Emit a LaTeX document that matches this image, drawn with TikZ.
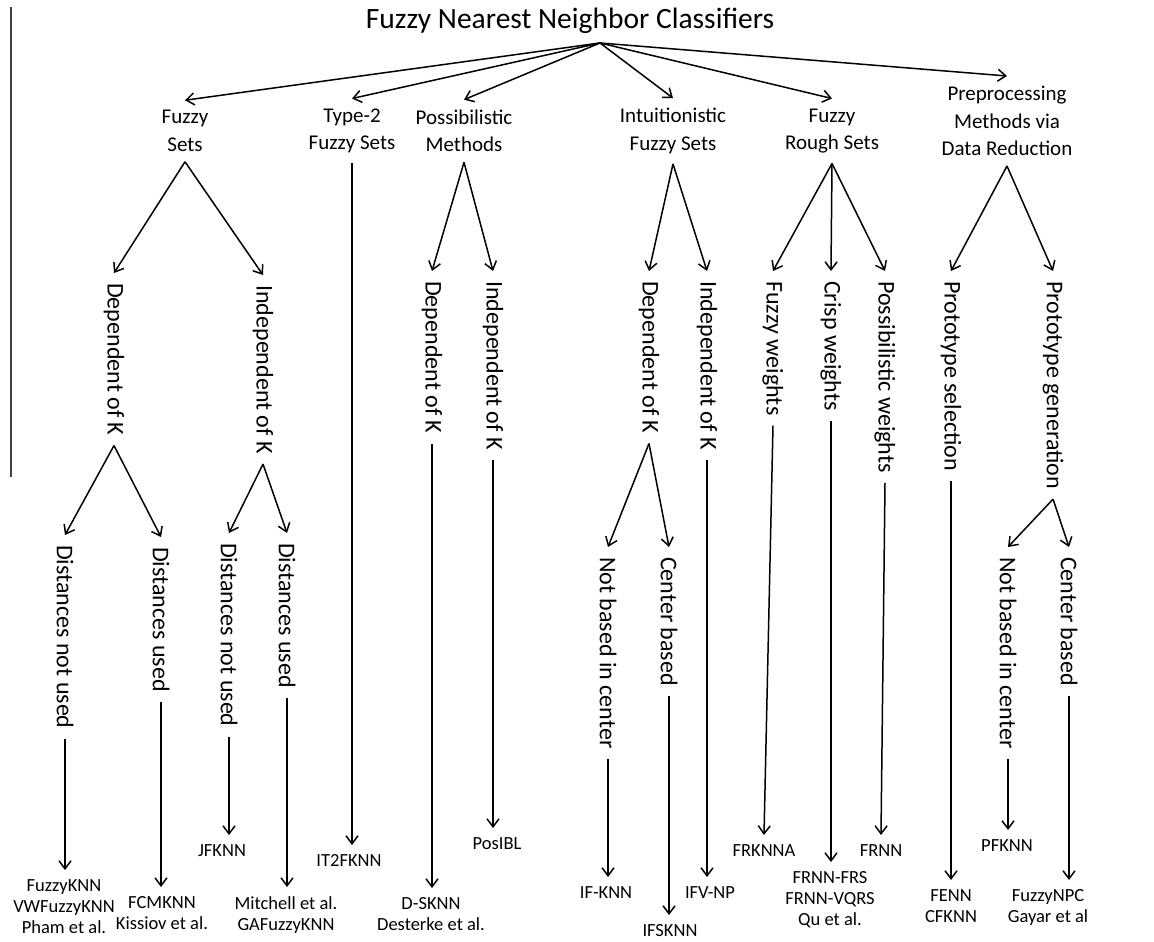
\documentclass[tikz,border=0pt]{standalone}
\usepackage{fontspec}
\setmainfont{Carlito}
\usetikzlibrary{arrows.meta}
\tikzset{
    arr/.style={-{Straight Barb[length=8pt,width=12pt]}, line width=1.5pt}, % connectors
    cat/.style={align=center, inner sep=10pt, font=\fontsize{21}{27.5}\selectfont}, % first level
    sub/.style={rotate=-90, anchor=west, inner sep=10pt, font=\fontsize{24}{28}\selectfont}, % vertical labels
    leaf/.style={align=center, anchor=north, inner sep=9pt, font=\fontsize{18.5}{21}\selectfont} % methods
}

\begin{document}
\begin{tikzpicture}[x=1pt, y=-1pt]
    \useasboundingbox (0,0) rectangle (1154,942);
    \draw[line width=1.2pt, black!75] (11,7) -- (11,477);

    \node[font=\fontsize{29.5}{34}\selectfont, inner sep=9pt] (root) at (570,21) {Fuzzy Nearest Neighbor Classifiers};

    \node[cat] (fs) at (185,131) {Fuzzy\\Sets};
    \node[cat] (tt) at (352,131) {Type-2\\Fuzzy Sets};
    \node[cat] (pm) at (464,131) {Possibilistic\\Methods};
    \node[cat] (ifs) at (673,131) {Intuitionistic\\Fuzzy Sets};
    \node[cat] (frs) at (832,131) {Fuzzy\\Rough Sets};
    \node[cat] (pre) at (1007,121) {Preprocessing\\Methods via\\Data Reduction};
    \foreach \c in {fs,tt,pm,ifs,frs,pre} {\draw[arr] ([xshift=30pt]root.south) -- (\c.north);}

    \foreach \n/\x/\y/\t in {fsd/114/273/Dependent of K, fsi/263/275/Independent of K,
        pmd/432/271/Dependent of K, pmi/493/271/Independent of K,
        ifd/649/271/Dependent of K, ifi/707/271/Independent of K,
        frf/773/271/Fuzzy weights, frc/831/271/Crisp weights, frp/885/271/Possibilistic weights,
        prs/951/271/Prototype selection, prg/1053/271/Prototype generation}
        {\node[sub] (\n) at (\x,\y) {\t};}
    \foreach \n/\x/\y/\t in {fsdn/65/535/Distances not used, fsdu/161/537/Distances used,
        fsin/229/533/Distances not used, fsiu/287/533/Distances used,
        ifdn/608/547/Not based in center, ifdc/669/547/Center based,
        prgn/1008/547/Not based in center, prgc/1069/547/Center based}
        {\node[sub] (\n) at (\x,\y) {\t};}

    \foreach \p/\c in {fs/fsd, fs/fsi, pm/pmd, pm/pmi, ifs/ifd, ifs/ifi, frs/frf, frs/frc, frs/frp, pre/prs, pre/prg}
        {\draw[arr] (\p.south) -- (\c.west);}
    \foreach \p/\c in {fsd/fsdn, fsd/fsdu, fsi/fsin, fsi/fsiu, ifd/ifdn, ifd/ifdc, prg/prgn, prg/prgc}
        {\draw[arr] (\p.east) -- (\c.west);}

    \foreach \n/\x/\y/\t in {fknn/64/870/{FuzzyKNN\\VWFuzzyKNN\\Pham et al.}, fcm/162/887/{FCMKNN\\Kissiov et al.},
        jf/222/835/JFKNN, ga/286/887/{Mitchell et al.\\GAFuzzyKNN}, it2/349/845/IT2FKNN,
        dsk/431/888/{D-SKNN\\Desterke et al.}, pos/497/828/PosIBL,
        ifk/606/877/IF-KNN, ifsk/670/915/IFSKNN, ifv/710/877/IFV-NP,
        frk/764/835/FRKNNA, frnnf/830/862/{FRNN-FRS\\FRNN-VQRS\\Qu et al.}, frnn/881/835/FRNN,
        fenn/951/880/{FENN\\CFKNN}, pfk/1007/830/PFKNN, npc/1048/880/{FuzzyNPC\\Gayar et al}}
        {\node[leaf] (\n) at (\x,\y) {\t};}

    \draw[arr] (tt.south) -- (tt.south |- it2.north);
    \draw[arr] (frf.east) -- (frk.north);
    \draw[arr] (frp.east) -- (frnn.north);
    \foreach \p/\c in {fsdn/fknn, fsdu/fcm, fsin/jf, fsiu/ga, pmd/dsk, pmi/pos, ifdn/ifk, ifdc/ifsk, ifi/ifv,
        frc/frnnf, prs/fenn, prgn/pfk, prgc/npc}
        {\draw[arr] (\p.east) -- (\p.east |- \c.north);}
\end{tikzpicture}
\end{document}
